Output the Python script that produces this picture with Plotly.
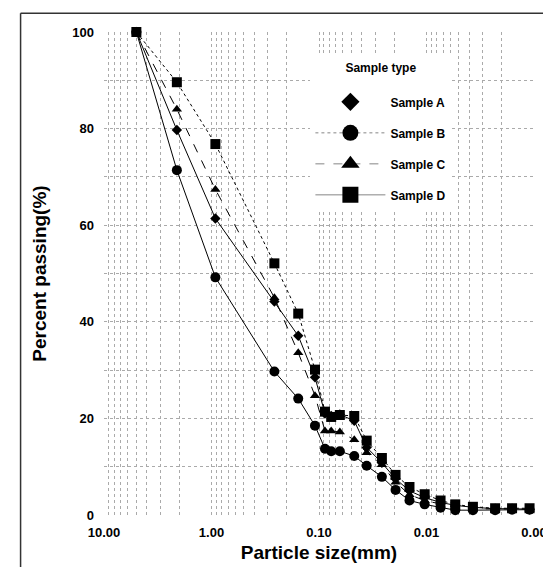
import plotly.graph_objects as go

# ---- data ----
sizes_mm = [5.0, 2.1, 0.92, 0.26, 0.156, 0.109, 0.088, 0.077, 0.064, 0.047, 0.036,
            0.026, 0.0194, 0.0144, 0.0104, 0.0074, 0.0054, 0.0037, 0.0023, 0.0016, 0.0011]
sample_a = [100, 79.7, 61.4, 44.2, 37.1, 28.5, 21.0, 20.5, 20.8, 19.5, 14.0,
            10.8, 7.5, 5.0, 3.6, 2.6, 2.0, 1.6, 1.3, 1.3, 1.2]
sample_b = [100, 71.4, 49.2, 29.7, 24.1, 18.5, 13.7, 13.2, 13.2, 12.2, 10.2,
            7.9, 5.2, 3.0, 2.2, 1.5, 1.0, 1.0, 1.0, 1.1, 1.1]
sample_c = [100, 84.0, 67.4, 45.0, 33.6, 24.7, 17.4, 17.4, 17.2, 15.6, 12.9,
            10.4, 6.8, 4.2, 3.0, 2.2, 1.6, 1.3, 1.2, 1.2, 1.2]
sample_d = [100, 89.6, 76.8, 52.1, 41.7, 30.1, 21.4, 20.3, 20.7, 20.5, 15.4,
            11.8, 8.3, 5.8, 4.3, 3.0, 2.2, 1.7, 1.4, 1.4, 1.4]

series_names = ["Sample A", "Sample B", "Sample C", "Sample D"]
x_tick_vals = [10, 1, 0.1, 0.01, 0.001]
x_tick_text = ["10.00", "1.00", "0.10", "0.01", "0.00"]
y_tick_vals = [0, 20, 40, 60, 80, 100]

FONT = "Liberation Sans, Arial, sans-serif"

symbols = ["diamond", "circle", "triangle-up", "square"]
plot_sizes = [8, 10, 9, 10]
legend_sizes = [14, 16, 16, 16]
dashes = ["solid", "solid", "dash", "dot"]
legend_dashes = ["solid", "dot", "dash", "solid"]
legend_line_w = [0, 0.8, 0.8, 0.8]
values = [sample_a, sample_b, sample_c, sample_d]

fig = go.Figure()
for name, vals, sym, sz, dsh in zip(series_names, values, symbols, plot_sizes, dashes):
    fig.add_trace(go.Scatter(
        x=sizes_mm, y=vals, mode="lines+markers", name=name,
        showlegend=False,
        marker=dict(symbol=sym, size=sz, color="black"),
        line=dict(color="black", width=1, dash=dsh),
        cliponaxis=False,
    ))
# legend entries with larger symbols (as in the reference key)
for name, sym, sz, dsh, lw in zip(series_names, symbols, legend_sizes, legend_dashes, legend_line_w):
    fig.add_trace(go.Scatter(
        x=[None], y=[None], mode="lines+markers" if lw > 0 else "markers", name=name,
        legendgroup=name,
        marker=dict(symbol=sym, size=sz, color="black"),
        line=dict(color="#666", width=max(lw, 0.5), dash=dsh),
    ))

# log gridlines (decades and minor steps)
grid_x = [10]
for dec in [1, 0.1, 0.01, 0.001]:
    for k in range(9, 0, -1):
        if dec * k <= 10:
            grid_x.append(dec * k)
grid_text = []
for v in grid_x:
    lab = ""
    for t, tt in zip(x_tick_vals, x_tick_text):
        if abs(v - t) < 1e-12:
            lab = tt
    grid_text.append(lab)

fig.update_layout(
    width=551, height=567,
    margin=dict(l=96, r=23, t=24, b=60),
    paper_bgcolor="white", plot_bgcolor="white",
    font=dict(family=FONT, color="black", size=12),
    showlegend=True,
    legend=dict(
        x=0.48, y=0.95, xanchor="left", yanchor="top",
        bgcolor="white", borderwidth=0,
        title=dict(text="<b>Sample type</b><br> ", font=dict(size=12, family=FONT), side="top center"),
        font=dict(size=12, family=FONT, weight="bold"),
        tracegroupgap=12, itemsizing="trace", itemwidth=70,
    ),
    xaxis=dict(
        type="log", range=[1, -3],
        tickvals=grid_x, ticktext=grid_text,
        tickfont=dict(size=13, family=FONT, weight="bold"),
        showgrid=True, gridcolor="#aaaaaa", griddash="dot", gridwidth=1,
        zeroline=False, showline=False, ticks="", ticklabelstandoff=8,
        title=dict(text="<b>Particle size(mm)</b>", font=dict(size=19, family=FONT), standoff=6),
    ),
    yaxis=dict(
        range=[0, 100], tickvals=list(range(0, 101, 10)),
        ticktext=[str(v) if v in y_tick_vals else "" for v in range(0, 101, 10)],
        tickfont=dict(size=13, family=FONT, weight="bold"),
        showgrid=True, gridcolor="#aaaaaa", griddash="dot", gridwidth=1,
        zeroline=False, showline=False, ticks="", ticklabelstandoff=9,
        title=dict(text="<b>Percent passing(%)</b>", font=dict(size=19, family=FONT), standoff=20),
    ),
)

# outer frame of the figure
frame_style = dict(color="#333", width=1.5)
for x0, y0, x1, y1 in [(-0.194, 1.039, 1.052, 1.039), (-0.194, 1.039, -0.194, -0.13),
                       (1.052, 1.039, 1.052, -0.13)]:
    fig.add_shape(type="line", xref="paper", yref="paper", x0=x0, y0=y0, x1=x1, y1=y1,
                  line=frame_style, layer="above")

fig.write_html("out.html")
